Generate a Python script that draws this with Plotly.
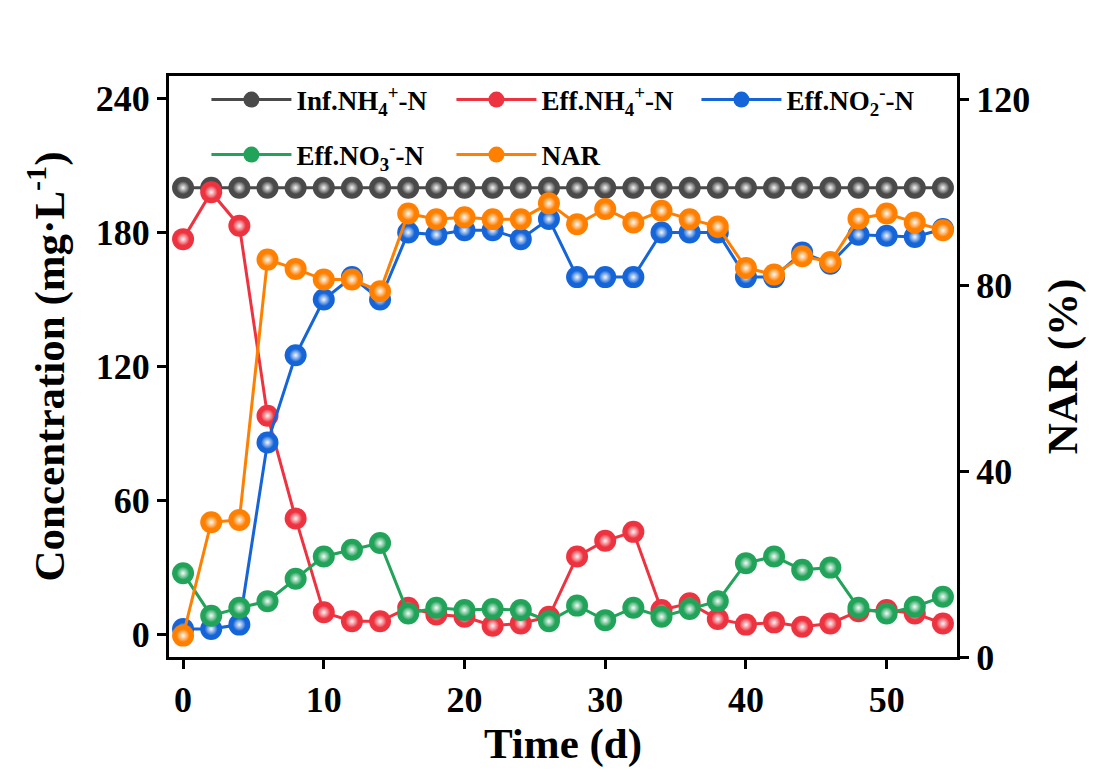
import plotly.graph_objects as go

days = [0, 2, 4, 6, 8, 10, 12, 14, 16, 18, 20, 22, 24, 26, 28, 30, 32, 34, 36, 38, 40, 42, 44, 46, 48, 50, 52, 54]
inf_nh4 = [200] * 28
eff_nh4 = [177, 198, 183, 98, 52, 10, 6, 6, 12, 9, 8, 4, 5, 8, 35, 42, 46, 11, 14, 7, 4.5, 5.5, 3.5, 5, 10.5, 11, 9.5, 5]
eff_no2 = [2.5, 2.5, 4.5, 86, 125, 150, 160, 150, 180, 179, 181, 181, 177, 186, 160, 160, 160, 180, 180, 180, 160, 160, 171, 166, 179, 178.5, 178, 181.5]
eff_no3 = [27.5, 8.5, 12, 15, 25, 35, 38, 41, 9.5, 12, 11, 11.5, 11, 6, 13, 6.5, 12, 8, 11.5, 15, 32, 35, 29, 30, 12, 9.5, 12.5, 17]
nar = [4.6, 29, 29.5, 85.5, 83.5, 81.2, 81.2, 78.7, 95.4, 94.2, 94.6, 94.2, 94.2, 97.6, 93.1, 96.4, 93.5, 96, 94.2, 92.6, 83.7, 82.3, 86.2, 85, 94.3, 95.4, 93.5, 91.8]

names = ["Inf.NH<sub>4</sub><sup>+</sup>-N", "Eff.NH<sub>4</sub><sup>+</sup>-N",
         "Eff.NO<sub>2</sub><sup>-</sup>-N", "Eff.NO<sub>3</sub><sup>-</sup>-N", "NAR"]
colors = ["#4a4a4a", "#ee3340", "#1565d8", "#22a35a", "#ff8000"]
series = [inf_nh4, eff_nh4, eff_no2, eff_no3, nar]
axes = ["y", "y", "y", "y", "y2"]
legends = ["legend", "legend", "legend", "legend2", "legend2"]

FONT = "Liberation Serif"
fig = go.Figure()
for nm, col, ys, ax, lg in zip(names, colors, series, axes, legends):
    fig.add_trace(go.Scatter(
        x=days, y=ys, name=nm, yaxis=ax, mode="lines+markers", legend=lg,
        line=dict(color=col, width=3),
        marker=dict(color=col, size=22, line=dict(width=0)),
    ))
    fig.add_trace(go.Scatter(
        x=days, y=ys, yaxis=ax, mode="markers", showlegend=False, hoverinfo="skip",
        marker=dict(color=col, size=13, line=dict(width=0),
                    gradient=dict(type="radial", color="rgba(255,255,255,0.95)")),
    ))

tickfont = dict(family=FONT, size=36, color="black", weight="bold")
titlefont = dict(family=FONT, size=43, color="black")
legfont = dict(family=FONT, size=27, color="black", weight="bold")
axcommon = dict(showline=True, linecolor="black", linewidth=3,
                ticks="outside", ticklen=9, tickwidth=3, tickcolor="black",
                showgrid=False, zeroline=False, tickfont=tickfont)
legcommon = dict(orientation="h", xanchor="left", yanchor="middle", font=legfont,
                 bgcolor="rgba(0,0,0,0)", entrywidth=150, entrywidthmode="pixels",
                 itemwidth=80, itemsizing="trace")
fig.update_layout(
    width=1105, height=771,
    margin=dict(l=169, r=148, t=76, b=114),
    paper_bgcolor="white", plot_bgcolor="white",
    font=dict(family=FONT, color="black"),
    showlegend=True,
    legend=dict(x=0.0475, y=0.9587, **legcommon),
    legend2=dict(x=0.0475, y=0.864, **legcommon),
    xaxis=dict(range=[-1, 55], tickvals=[0, 10, 20, 30, 40, 50], mirror=True,
               title=dict(text="<b>Time (d)</b>", font=titlefont, standoff=4), **axcommon),
    yaxis=dict(range=[-10, 250], tickvals=[0, 60, 120, 180, 240],
               title=dict(text="<b>Concentration (mg·L<sup>-1</sup>)</b>", font=titlefont, standoff=18),
               **axcommon),
    yaxis2=dict(range=[0, 125], tickvals=[0, 40, 80, 120], overlaying="y", side="right",
                title=dict(text="<b>NAR (%)</b>", font=titlefont, standoff=18), **axcommon),
)
fig.write_html("out.html")
